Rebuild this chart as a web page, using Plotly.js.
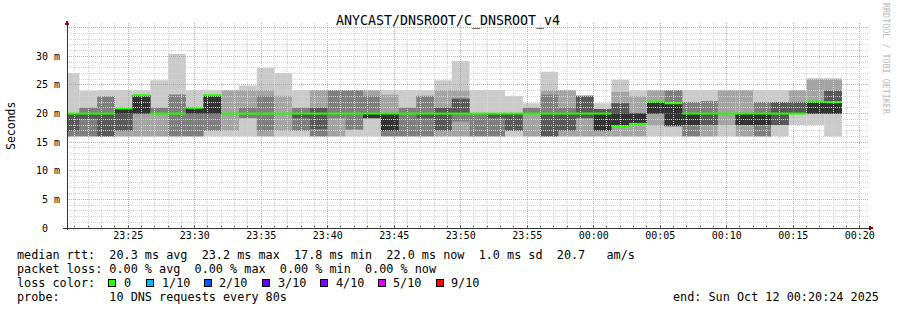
<!DOCTYPE html>
<html><head><meta charset="utf-8">
<script src="https://cdn.plot.ly/plotly-3.0.1.min.js"></script>
<style>
html,body{margin:0;padding:0;background:#fff;}
#chart{width:897px;height:310px;}
.shapelayer path{shape-rendering:crispEdges;}
</style>
</head><body><div id="chart"></div>
<script>
// ---- data: one entry per 80 s SmokePing step (10 DNS requests each, sorted) ----
const times = ['23:20:00','23:21:20','23:22:40','23:24:00','23:25:20','23:26:40','23:28:00','23:29:20',
  '23:30:40','23:32:00','23:33:20','23:34:40','23:36:00','23:37:20','23:38:40','23:40:00','23:41:20',
  '23:42:40','23:44:00','23:45:20','23:46:40','23:48:00','23:49:20','23:50:40','23:52:00','23:53:20',
  '23:54:40','23:56:00','23:57:20','23:58:40','00:00:00','00:01:20','00:02:40','00:04:00','00:05:20',
  '00:06:40','00:08:00','00:09:20','00:10:40','00:12:00','00:13:20','00:14:40','00:16:00','00:17:20'];
// sorted pings (ms)
const p1  = [16,16,16,16,16,16,16,16,16,16,16,16,16,16,16,16,16,16,16,16,16,16,16,16,16,16,16,16,16,16,16,16,16,16,16,16,16,16,16,16,16,18,18,16];
const p2  = [16,16,16,16,16,16,16,16,17,17,19.2,16,17,17,16,16,17.2,19.2,16,16,16,16,16,16,16,17,16,16,16,16,16,16,16,17.9,17.8,16,16,18,16,16,18,20,20,20];
const p3  = [16,16,16,17,20,20,16,16,17,20,19.2,17,20,17,16,19.2,17.2,19.2,16,16,16,17,18.6,16,16,17,20,16,17,19.2,17,17.8,18.2,20,17.8,16,18,20,18,16,18,20,20,20];
const p4  = [17,19.1,16,17,20,20,20,20,20,20,20,20,20,19.2,17.3,20,20,19.2,17,20,19.2,17,20,20,19.2,17,20,16,17,19.2,17,17.8,18.2,20,17.8,18,18,20,18,18,18,20,20,20];
const p5  = [20,20,20,20,20,20,20,20,20,20,20,20,20,20,20,20,20,19.2,17,20,20,20,20,20,20,20,20,20,20,20,17,17.8,18.2,20,17.8,18,20,20,18,18,20,20,20,20];
const p6  = [20,20,20,20.9,23.2,20,20,21,23.2,20,20,20,20,20,20,20,20,20,20,20,20,20,20,20,20,20,20,20,20,20,20,20,20,22.1,21.8,20,20,20,20,20,20,20,22.1,22];
const p7  = [20,20,20,20.9,23.2,20,20,21,23.2,20,20,20,20,20,21,20,20,20,20,20,20,21,22.6,20,20,20,20,20,20,23.1,20.8,21.8,20,22.1,21.8,20,20,20,20,20,22,22,22.1,24];
const p8  = [20,21,23,20.9,23.2,21,23.3,21,23.2,20,21,23.1,20,21,21,24.1,24.1,23.1,20,21,23.1,21,22.6,20,20,20,21,23.3,21,23.1,20.8,21.8,20,22.1,24.1,22,22.2,20,20,22,22,22,22.1,24];
const p9  = [20,21,23,20.9,23.2,21,23.3,21,23.2,24.1,24.1,24.1,23.1,21,24.1,24.1,24.1,24.1,23.3,21,23.1,24.1,24.1,20,20,20,21,24.1,24.1,23.1,20.8,23.8,23,24.1,24.1,22,22.2,24.1,24.1,22,22,24.1,26.1,26.1];
const p10 = [27.1,24,24.1,24.1,24.1,25.8,30.4,24.1,24.1,24.1,24.9,28,27.1,24.1,24.1,24.1,24.1,24.1,24.1,24.1,24.1,25.8,29.2,24.1,24.1,23.1,21.8,27.3,24.1,23.1,21.8,25.9,24.1,24.1,24.1,24.1,24.1,24.1,24.1,24.1,24.1,24.1,26.1,26.1];
const median = [20,20,20,20.9,23.2,20,20,21,23.2,20,20,20,20,20,20,20,20,20,20,20,20,20,20,20,20,20,20,20,20,20,20,17.8,18.2,22.1,21.8,20,20,20,20,20,20,20,22.1,22];
const stepSeconds = 80;
const yTickVals = [0,5,10,15,20,25,30,35];
const yTickText = ['0\u00a0\u00a0','5 m','10 m','15 m','20 m','25 m','30 m',''];
const lossLabels = ['0','1/10','2/10','3/10','4/10','5/10','9/10'];
const lossColors = ['#26ff00','#00b8ff','#0059ff','#5e00ff','#7e00ff','#dd00ff','#ff0000'];
const smokeColors = ['#cacaca','#a4a4a4','#7e7e7e','#585858','#323232'];

// ---- helpers ----
function toMs(t){
  const [h,m,s] = t.split(':').map(Number);
  const day = h < 12 ? 12 : 11;
  return Date.UTC(2025, 9, day, h, m, s);
}
const xStart = times.map(toMs);
const stepMs = stepSeconds*1000;
const L = 67, R = 865, T = 22, B = 228;
const px = x => (x - L)/(R - L);
const py = y => (B - y)/(B - T);
const nb = s => s.replace(/ /g,'\u00a0');

// ---- traces ----
const lowers = [p1,p2,p3,p4,p5], uppers = [p10,p9,p8,p7,p6];
const traces = lowers.map((lo,k) => ({
  type:'bar', x:xStart, base:lo, y:uppers[k].map((v,i)=>v-lo[i]),
  width:stepMs, offset:0, marker:{color:smokeColors[k], line:{width:0}},
  hoverinfo:'skip', showlegend:false
}));
const mx=[], my=[];
xStart.forEach((x,i)=>{ mx.push(x, x+stepMs, null); my.push(median[i], median[i], null); });
traces.push({type:'scatter', mode:'lines', x:mx, y:my, connectgaps:false,
  line:{color:lossColors[0], width:2}, hoverinfo:'skip', showlegend:false});

// ---- grid (drawn above the smoke, like rrdtool) ----
const shapes = [];
const gMin = toMs('23:21:00'), gMax = toMs('00:20:00');
for (let t = gMin; t <= gMax; t += 60000) {
  const major = ((t - toMs('23:25:00')) % 300000) === 0;
  shapes.push({type:'line', layer:'above', xref:'x', yref:'paper', x0:t, x1:t, y0:0, y1:1,
    line:{color: major ? 'rgba(255,110,110,0.75)' : '#d2d2d2', width:1, dash:'1px,1px'}});
}
for (let v = 1; v <= 35; v++) {
  const major = v % 5 === 0;
  shapes.push({type:'line', layer:'above', xref:'paper', yref:'y', x0:0, x1:px(868), y0:v, y1:v,
    line:{color: major ? 'rgba(255,110,110,0.75)' : '#d2d2d2', width:1, dash:'1px,1px'}});
}
// axes with arrows
shapes.push({type:'line', layer:'above', xref:'paper', yref:'paper', x0:px(67), x1:px(67), y0:py(230), y1:py(24), line:{color:'#333', width:1}});
shapes.push({type:'line', layer:'above', xref:'paper', yref:'paper', x0:px(63), x1:px(869), y0:py(228), y1:py(228), line:{color:'#333', width:1}});
shapes.push({type:'path', layer:'above', xref:'paper', yref:'paper',
  path:`M ${px(64.5)} ${py(25)} L ${px(69.5)} ${py(25)} L ${px(67)} ${py(20)} Z`, fillcolor:'#a00000', line:{width:0}});
shapes.push({type:'path', layer:'above', xref:'paper', yref:'paper',
  path:`M ${px(868.5)} ${py(225.5)} L ${px(868.5)} ${py(230.5)} L ${px(873.5)} ${py(228)} Z`, fillcolor:'#a00000', line:{width:0}});

// ---- legend block ----
const mono = 'DejaVu Sans Mono';
const txt = (x, y, s, extra) => Object.assign({xref:'paper', yref:'paper', x:px(x), y:py(y), xanchor:'left', yanchor:'middle',
  text:nb(s), showarrow:false, borderpad:0, font:{family:mono, size:11.8, color:'#000'}}, extra||{});
const annotations = [
  txt(16, 255, 'median rtt:  20.3 ms avg  23.2 ms max  17.8 ms min  22.0 ms now  1.0 ms sd  20.7   am/s'),
  txt(16, 268.5, 'packet loss: 0.00 % avg  0.00 % max  0.00 % min  0.00 % now'),
  txt(16, 282.5, 'loss color:'),
  txt(16, 296.5, 'probe:       10 DNS requests every 80s'),
  txt(880, 296.5, 'end: Sun Oct 12 00:20:24 2025', {xanchor:'right'}),
  {xref:'paper', yref:'paper', x:px(11), y:py(126), text:'Seconds', textangle:-90, showarrow:false,
    xanchor:'center', yanchor:'middle', font:{family:mono, size:11.5, color:'#000'}},
  {xref:'paper', yref:'paper', x:px(886), y:py(59), text:nb('RRDTOOL / TOBI OETIKER'), textangle:90, showarrow:false,
    xanchor:'center', yanchor:'middle', font:{family:mono, size:8.4, color:'#b8b8b8'}}
];
const labelX = [122.5,160.5,218,276.5,334.5,392,450];
lossLabels.forEach((lab,i)=>{
  annotations.push(txt(labelX[i], 282.5, lab));
  const x0 = labelX[i]-14;
  shapes.push({type:'rect', xref:'paper', yref:'paper', x0:px(x0), x1:px(x0+7), y0:py(286), y1:py(279),
    fillcolor:lossColors[i], line:{color:'#000', width:1}});
});

const layout = {
  width:897, height:310, margin:{l:L, r:897-R, t:T, b:310-B},
  paper_bgcolor:'#fff', plot_bgcolor:'#fff', barmode:'overlay', showlegend:false,
  title:{text:'ANYCAST/DNSROOT/C_DNSROOT_v4', font:{family:mono, size:13.3, color:'#000'},
    xref:'container', yref:'container', x:448/897, xanchor:'center', y:1-20/310, yanchor:'middle'},
  xaxis:{type:'date', range:['2025-10-11 23:20:24','2025-10-12 00:20:24'], showgrid:false, zeroline:false, showline:false,
    tickmode:'linear', tick0:'2025-10-11 23:25:00', dtick:300000, tickformat:'%H:%M',
    ticks:'inside', ticklen:3, tickcolor:'#333', tickfont:{family:mono, size:10, color:'#000'},
    minor:{dtick:60000, tick0:'2025-10-11 23:25:00', ticks:'inside', ticklen:2, tickcolor:'#333', showgrid:false},
    fixedrange:true},
  yaxis:{range:[0,36], tickmode:'array', tickvals:yTickVals, ticktext:yTickText, showgrid:false, zeroline:false, showline:false,
    ticks:'', ticklabelstandoff:6, tickfont:{family:mono, size:10, color:'#000'}, fixedrange:true},
  shapes:shapes, annotations:annotations
};
Plotly.newPlot('chart', traces, layout, {displayModeBar:false, staticPlot:true});
</script></body></html>
